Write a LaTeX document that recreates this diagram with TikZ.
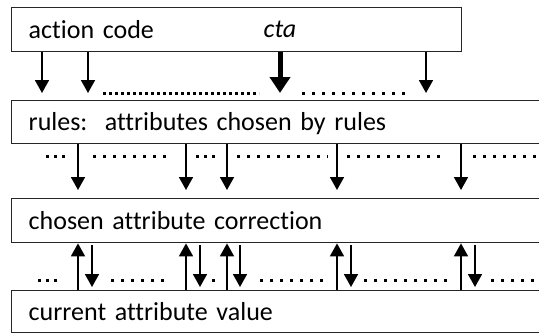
\documentclass[tikz,border=0pt]{standalone}
\usepackage{fontspec}
\setmainfont[Ligatures=NoCommon, WordSpace=0.85]{Carlito}
\usetikzlibrary{arrows.meta}
\begin{document}
\begin{tikzpicture}[x=1pt,y=-1pt,
  layer/.style={draw=black!85, line width=1.4pt, rectangle, anchor=north west,
    align=left, inner xsep=17pt, inner ysep=0pt, text height=17pt, text depth=0pt,
    font=\fontsize{26}{30}\selectfont},
  down/.style={line width=1.8pt, -{Triangle[width=14pt,length=13pt]}},
  bold down/.style={line width=5pt, -{Triangle[width=20pt,length=16pt]}},
  dots/.style={line width=3pt, dash pattern=on 3pt off 7pt},
  tight dots/.style={line width=3pt, dash pattern=on 3pt off 5pt},
  dense dots/.style={line width=3pt, dash pattern=on 3pt off 3pt},
]
\useasboundingbox (0,0) rectangle (539,333);
\clip (0,0) rectangle (539,333);

% the four layers
\node[layer, text width=416pt, minimum height=44pt] (act) at (11,7) {action code};
\node[layer, text width=515pt, minimum height=43pt] (rul) at (11,100) {rules:\ \ attributes chosen by rules};
\node[layer, text width=515pt, minimum height=44pt] (cho) at (11,198) {chosen attribute correction};
\node[layer, text width=515pt, minimum height=42pt] (cur) at (11,290) {current attribute value};
\node[anchor=base, inner sep=0pt, font=\fontsize{26}{30}\selectfont\itshape] (cta) at (280,37.5) {cta};

% action code -> rules
\foreach \dx in {31,77,415}
  \draw[down, shorten >=7pt] ([xshift=\dx pt]act.south west) -- ([xshift=\dx pt]rul.north west);
\draw[bold down, shorten >=7pt] ([xshift=269pt]act.south west) -- ([xshift=269pt]rul.north west);

% rules -> chosen correction
\foreach \dx in {67,175,216,326,450}
  \draw[down, shorten >=8pt] ([xshift=\dx pt]rul.south west) -- ([xshift=\dx pt]cho.north west);

% current value <-> chosen correction
\foreach \dx in {67,175,216,326,450}
  \draw[down] ([xshift=\dx pt]cur.north west) -- ([xshift=\dx pt]cho.south west);
\foreach \dx in {81,189,229,340,464}
  \draw[down, shorten <=2pt, shorten >=3pt] ([xshift=\dx pt]cho.south west) -- ([xshift=\dx pt]cur.north west);

% ellipses between the arrows
\draw[dense dots] (103,93) -- (259,93);
\draw[dots] (302,93) -- (405,93);

\draw[tight dots] (46,156) -- (68,156);
\draw[dots] (93,156) -- (170,156);
\draw[tight dots] (196,156) -- (218,156);
\draw[dots] (237,156) -- (328,156);
\draw[dots] (347,156) -- (445,156);
\draw[dots] (473,156) -- (545,156);

\draw[tight dots] (38,280) -- (60,280);
\draw[dots] (111,280) -- (170,280);
\draw[dots] (212,280) -- (215,280);
\draw[dots] (260,280) -- (328,280);
\draw[dots] (364,280) -- (452,280);
\draw[dots] (491,280) -- (545,280);
\end{tikzpicture}
\end{document}
